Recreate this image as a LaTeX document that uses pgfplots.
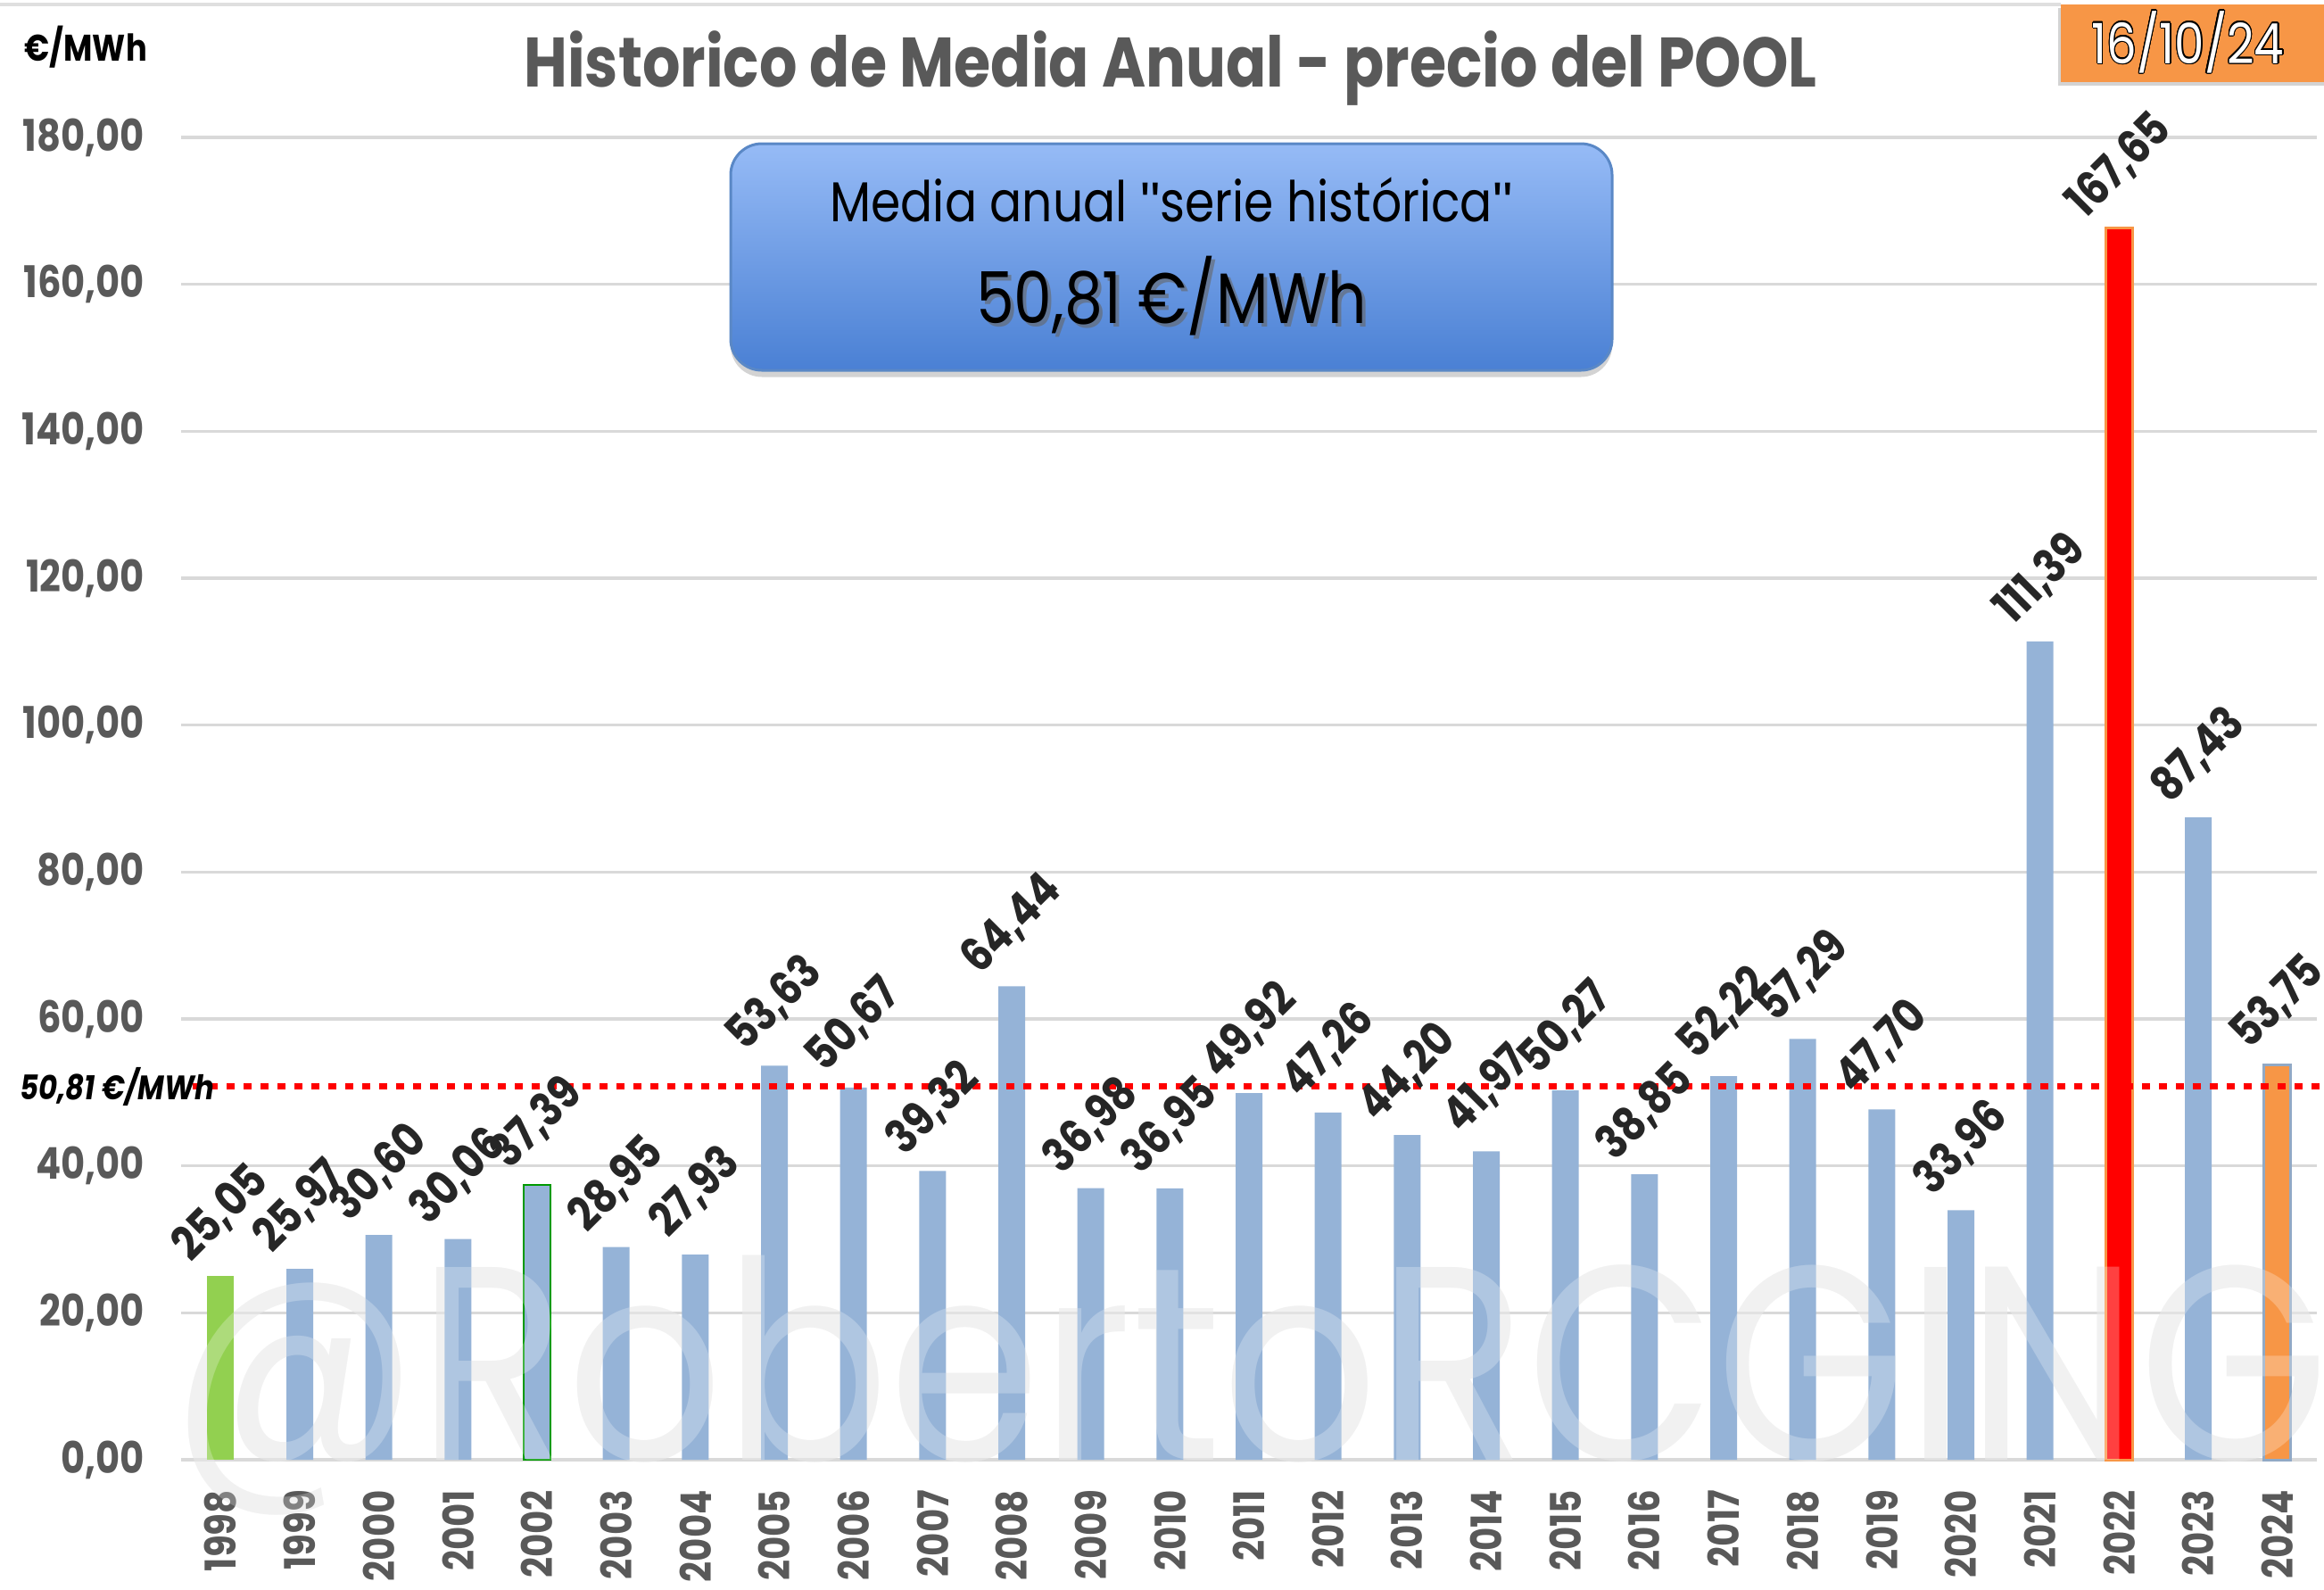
\documentclass[border=0pt]{standalone}
\usepackage{pgfplots}
\pgfplotsset{compat=1.18}
\usepackage{fontspec}
\setmainfont{Poppins}[FakeStretch=0.85]
\newfontfamily\wmfont{Poppins}[FakeStretch=0.885]
\newfontfamily\qfont{Liberation Sans}
\usetikzlibrary{shadows}
\usepackage{contour}
\contourlength{0.25pt}
\definecolor{barblue}{HTML}{95B3D7}
\definecolor{bargreen}{HTML}{92D050}
\definecolor{barorange}{HTML}{F79646}
\definecolor{ticktext}{HTML}{595959}
\definecolor{boxtop}{HTML}{96BBF6}
\definecolor{boxbot}{HTML}{4A80D4}
\definecolor{boxline}{HTML}{5A88C6}
\begin{document}
\begin{tikzpicture}
\useasboundingbox (0,0) rectangle (521pt,-356.2pt);
\draw[gray!25, line width=0.8pt] (0,-1pt) -- (462pt,-1pt);
% watermark behind
\node[anchor=base west, inner sep=0pt, font=\wmfont\fontsize{62}{62}\selectfont, text=black!7] at (38pt,-327.2pt) {@RobertoRCGING};
\begin{axis}[
  at={(40.6pt,-327.2pt)}, anchor=south west,
  scale only axis, width=478.8pt, height=296.4pt,
  xmin=-0.5, xmax=26.5, ymin=0, ymax=180,
  ybar, bar width=6pt, bar shift=0pt,
  axis line style={draw=none},
  major tick length=0pt,
  ymajorgrids, grid style={gray!30, line width=0.7pt},
  ytick={0,20,...,180},
  /pgf/number format/assume math mode=true,
  yticklabel style={/pgf/number format/.cd, fixed, fixed zerofill, precision=2, use comma, /tikz/.cd,
    font=\bfseries\fontsize{9.8}{10}\selectfont, text=ticktext, inner sep=0pt, xshift=-8pt},
  xtick={0,...,26},
  xticklabels={1998,1999,2000,2001,2002,2003,2004,2005,2006,2007,2008,2009,2010,2011,2012,2013,2014,2015,2016,2017,2018,2019,2020,2021,2022,2023,2024},
  xticklabel style={yshift=-6.6pt, rotate=90, anchor=east, inner sep=0pt,
    font=\bfseries\fontsize{9.5}{10}\selectfont, text=ticktext},
  nodes near coords={\pgfmathprintnumber[fixed, fixed zerofill, precision=2, use comma]{\pgfplotspointmeta}},
  nodes near coords style={font=\bfseries\fontsize{10.5}{11}\selectfont, text=black!85, anchor=center, yshift=14pt, rotate=45, inner sep=0pt},
  clip=false,
]
\addplot[fill=barblue, draw=none] coordinates {
(1,25.97) (2,30.60) (3,30.06) (5,28.95) (6,27.93) (7,53.63) (8,50.67) (9,39.32)
(10,64.44) (11,36.98) (12,36.95) (13,49.92) (14,47.26) (15,44.20) (16,41.97)
(17,50.27) (18,38.85) (19,52.22) (20,57.29) (21,47.70) (22,33.96) (23,111.39) (25,87.43)};
\addplot[fill=bargreen, draw=none] coordinates {(0,25.05)};
\addplot[fill=barblue, draw=green!60!black, line width=0.5pt] coordinates {(4,37.39)};
\addplot[fill=red, draw=barorange, line width=0.6pt] coordinates {(24,167.65)};
\addplot[fill=barorange, draw=barblue!80!gray, line width=0.6pt] coordinates {(26,53.75)};
\draw[red, line width=1.5pt, dash pattern=on 1.8pt off 2pt] (axis cs:-0.35,50.81) -- (axis cs:26.7,50.81);
\node[anchor=east, inner sep=0pt, font=\bfseries\itshape\fontsize{7.6}{8}\selectfont] at (axis cs:-0.07,50.81) {50,81 €/MWh};
\end{axis}
% watermark overlay
\node[anchor=base west, inner sep=0pt, font=\wmfont\fontsize{62}{62}\selectfont, text=white, opacity=0.25] at (38pt,-327.2pt) {@RobertoRCGING};
% unit label
\node[anchor=west, inner sep=0pt, font=\bfseries\fontsize{8.3}{9}\selectfont] at (5.3pt,-10.6pt) {€/MWh};
% title
\node[font=\bfseries\fontsize{15.7}{17}\selectfont, text=ticktext] at (262.4pt,-15.2pt) {Historico de Media Anual - precio del POOL};
% info box
\node[rounded corners=7pt, draw=boxline, line width=0.6pt, top color=boxtop, bottom color=boxbot,
  minimum width=197.6pt, minimum height=50.8pt, drop shadow={shadow xshift=0pt, shadow yshift=-1.5pt, opacity=0.35}] at (262.6pt,-57.6pt) {};
\node[font=\fontsize{12.6}{13}\selectfont] at (262.6pt,-44.8pt) {Media anual {\qfont"}serie histórica{\qfont"}};
\node[font=\fontsize{16}{18}\selectfont, text=black!60, opacity=0.6] at (263.4pt,-67.2pt) {50,81 €/MWh};
\node[font=\fontsize{16}{18}\selectfont] at (262.6pt,-66.4pt) {50,81 €/MWh};
% date box
\node[fill=barorange, minimum width=62pt, minimum height=17.4pt, inner sep=0pt, anchor=north west,
  drop shadow={shadow xshift=-0.6pt, shadow yshift=-0.8pt, opacity=0.35}] at (461.8pt,-0.8pt) {};
\node[font=\fontsize{12.5}{13}\selectfont] at (490.5pt,-9.5pt) {\contour{black}{\textcolor{white}{16/10/24}}};
\end{tikzpicture}
\end{document}
